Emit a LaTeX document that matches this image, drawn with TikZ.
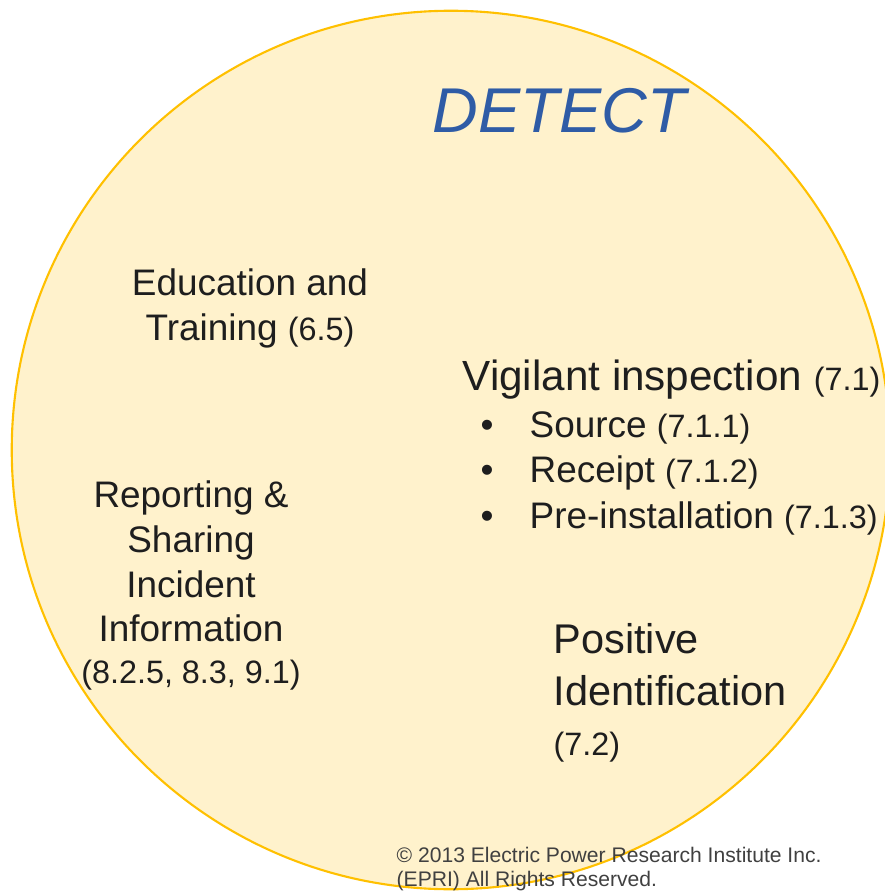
\documentclass[tikz,border=0pt]{standalone}
\usepackage{fontspec}
\setmainfont{Liberation Sans}
\usetikzlibrary{positioning}
\definecolor{detect fill}{RGB}{255,242,204}
\definecolor{detect edge}{RGB}{255,192,0}
\definecolor{detect blue}{RGB}{47,92,166}
\definecolor{detect text}{RGB}{30,30,30}
\newcommand{\refno}[1]{{\fontsize{9.2}{11}\selectfont #1}}

\begin{document}
\begin{tikzpicture}[x=0.01cm, y=-0.01cm,
	detect circle/.style={draw=detect edge, fill=detect fill, line width=0.6pt, circle, minimum size=8.78cm, inner sep=0pt},
	detect label/.style={inner sep=0pt, text=detect text, font=\fontsize{10.5}{12.7}\selectfont},
	big label/.style={detect label, font=\fontsize{11.8}{14.7}\selectfont},
	bullet/.style={inner sep=0pt, text=detect text, font=\fontsize{10.5}{12.7}\selectfont},
	copyright/.style={inner sep=0pt, text=black!75, font=\fontsize{6}{6.8}\selectfont, align=left},
]
	\useasboundingbox (0,0) rectangle (885,891);

	\node[detect circle] (detect) at (451,450) {};

	\node[anchor=base west, inner sep=0pt, text=detect blue, font=\fontsize{18}{20}\selectfont\itshape] (title) at (432,133) {DETECT};

	% multi-line nodes: base is the last line
	\node[detect label, align=center, anchor=base] (training) at (250,340) {Education and\\Training \refno{(6.5)}};

	\node[big label, anchor=base west, font=\fontsize{12}{14.7}\selectfont] (vigilant) at (462,390) {Vigilant inspection \refno{(7.1)}};
	\node[detect label, anchor=base west] (source) at (529,437) {Source \refno{(7.1.1)}};
	\node[detect label, anchor=base west] (receipt) at (529,482) {Receipt \refno{(7.1.2)}};
	\node[detect label, anchor=base west] (preinst) at (529,528) {Pre-installation \refno{(7.1.3)}};
	\node[bullet, anchor=base] (b1) at (487,437) {\textbullet};
	\node[bullet, anchor=base] (b2) at (487,482) {\textbullet};
	\node[bullet, anchor=base] (b3) at (487,528) {\textbullet};

	\node[detect label, align=center, anchor=base] (reporting) at (191,683) {Reporting \&\\Sharing\\Incident\\Information\\[-1pt]\refno{(8.2.5, 8.3, 9.1)}};

	\node[big label, align=left, anchor=base west] (positive) at (553,755) {Positive\\Identification\\[-0.5pt]\refno{(7.2)}};

	\node[copyright, anchor=base west] (epri) at (396,886) {\textcopyright{} 2013 Electric Power Research Institute Inc.\\(EPRI) All Rights Reserved.};
\end{tikzpicture}
\end{document}
